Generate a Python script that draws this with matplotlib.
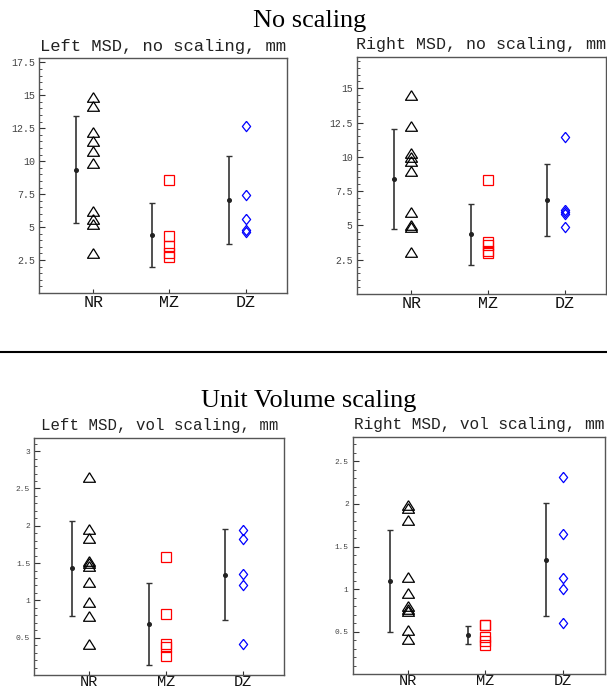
import matplotlib
matplotlib.use("Agg")
import matplotlib.pyplot as plt
from matplotlib.lines import Line2D
from matplotlib.ticker import MultipleLocator, FixedLocator
import numpy as np

categories = ["NR", "MZ", "DZ"]

# ---- Left MSD, no scaling ----
left_noscale_nr = [14.9, 14.2, 12.2, 11.5, 10.8, 9.9, 6.2, 5.6, 5.2, 3.0]
left_noscale_mz = [8.6, 4.3, 3.6, 3.0, 2.7]
left_noscale_dz = [12.7, 7.4, 5.6, 4.8, 4.65]
left_noscale_mean = [9.37, 4.43, 7.03]
left_noscale_sd = [4.08, 2.43, 3.35]

# ---- Right MSD, no scaling ----
right_noscale_nr = [14.5, 12.25, 10.3, 10.0, 9.7, 9.0, 6.0, 5.0, 4.9, 3.05]
right_noscale_mz = [8.3, 3.8, 3.6, 3.1, 3.0]
right_noscale_dz = [11.45, 6.15, 6.0, 5.8, 4.85]
right_noscale_mean = [8.4, 4.36, 6.84]
right_noscale_sd = [3.63, 2.23, 2.64]

# ---- Left MSD, vol scaling ----
left_vol_nr = [2.66, 1.96, 1.84, 1.53, 1.50, 1.46, 1.24, 0.98, 0.79, 0.42]
left_vol_mz = [1.58, 0.82, 0.41, 0.37, 0.25]
left_vol_dz = [1.94, 1.82, 1.36, 1.20, 0.42]
left_vol_mean = [1.43, 0.685, 1.345]
left_vol_sd = [0.64, 0.545, 0.605]

# ---- Right MSD, vol scaling ----
right_vol_nr = [1.99, 1.95, 1.81, 1.14, 0.96, 0.80, 0.77, 0.74, 0.52, 0.41]
right_vol_mz = [0.58, 0.58, 0.44, 0.39, 0.34]
right_vol_dz = [2.32, 1.65, 1.13, 1.00, 0.605]
right_vol_mean = [1.095, 0.4625, 1.345]
right_vol_sd = [0.595, 0.108, 0.665]

panel_titles = ["Left MSD, no scaling, mm", "Right MSD, no scaling, mm",
                "Left MSD, vol scaling, mm", "Right MSD, vol scaling, mm"]
section_titles = ["No scaling", "Unit Volume scaling"]

panels = [
    dict(title=panel_titles[0], nr=left_noscale_nr, mz=left_noscale_mz, dz=left_noscale_dz,
         mean=left_noscale_mean, sd=left_noscale_sd,
         rect=[39/607, 1-293/689, 248/607, 235/689], ylim=(0, 17.83),
         major=2.5, minor=0.5, tfs=12.3, lfs=7.2, xpad=1.5, xfs=12),
    dict(title=panel_titles[1], nr=right_noscale_nr, mz=right_noscale_mz, dz=right_noscale_dz,
         mean=right_noscale_mean, sd=right_noscale_sd,
         rect=[356.7/607, 1-294/689, 249.3/607, 237.3/689], ylim=(0, 17.3),
         major=2.5, minor=0.5, tfs=12.0, lfs=7.0, xpad=1.5, xfs=12),
    dict(title=panel_titles[2], nr=left_vol_nr, mz=left_vol_mz, dz=left_vol_dz,
         mean=left_vol_mean, sd=left_vol_sd,
         rect=[34.3/607, 1-675/689, 250/607, 237.3/689], ylim=(0, 3.18),
         major=0.5, minor=0.1, tfs=11.3, lfs=5.8, xpad=0.0, xfs=11),
    dict(title=panel_titles[3], nr=right_vol_nr, mz=right_vol_mz, dz=right_vol_dz,
         mean=right_vol_mean, sd=right_vol_sd,
         rect=[352.7/607, 1-674.3/689, 252.3/607, 237.6/689], ylim=(0, 2.79),
         major=0.5, minor=0.1, tfs=11.6, lfs=5.6, xpad=0.0, xfs=11),
]

mono = "Liberation Mono"
serif = "Liberation Serif"

tri = [(0, 0.8), (-1, -0.8), (1, -0.8), (0, 0.8)]
dia = [(0, 1), (0.8, 0), (0, -1), (-0.8, 0), (0, 1)]

fig = plt.figure(figsize=(6.07, 6.89), dpi=100)

for p in panels:
    ax = fig.add_axes(p["rect"])
    x = np.arange(1, 4)
    ax.plot([x[0]] * len(p["nr"]), p["nr"], linestyle="none", marker=tri, ms=8.6,
            mfc="none", mec="black", mew=0.9)
    ax.plot([x[1]] * len(p["mz"]), p["mz"], linestyle="none", marker="s", ms=6.5,
            mfc="none", mec="#ff0000", mew=0.9)
    ax.plot([x[2]] * len(p["dz"]), p["dz"], linestyle="none", marker=dia, ms=7.4,
            mfc="none", mec="#0000ff", mew=0.9)
    ax.errorbar(x - 0.225, p["mean"], yerr=p["sd"], fmt="o", ms=2.6, color="#222222",
                ecolor="#333333", elinewidth=1.2, capsize=2.2, capthick=1.0)
    ax.set_xlim(0.29, 3.54)
    ax.set_ylim(*p["ylim"])
    ymax = p["ylim"][1]
    majors = np.arange(p["major"], ymax + 1e-9, p["major"])
    ax.yaxis.set_major_locator(FixedLocator(majors))
    ax.yaxis.set_minor_locator(MultipleLocator(p["minor"]))
    ax.set_yticklabels([("%g" % v) for v in majors], fontfamily=mono,
                       fontsize=p["lfs"], color="#444444")
    ax.set_xticks(x)
    ax.set_xticklabels(categories, fontfamily=mono, fontsize=p["xfs"], color="#111111")
    ax.tick_params(axis="y", which="major", direction="in", length=4, width=0.8,
                   color="#333333", pad=3)
    ax.tick_params(axis="y", which="minor", direction="in", length=2, width=0.6,
                   color="#333333")
    ax.tick_params(axis="x", which="major", direction="in", length=3, width=0.8,
                   color="#333333", pad=p["xpad"])
    ax.tick_params(axis="x", which="minor", length=0)
    for s in ax.spines.values():
        s.set_color("#555555")
        s.set_linewidth(1.0)
    ax.set_title(p["title"], fontfamily=mono, fontsize=p["tfs"], color="#222222", pad=5.2)

fig.text(309.5/607, 1-27/689, section_titles[0], ha="center", va="baseline",
         fontfamily=serif, fontsize=18.9, color="black")
fig.text(309/607, 1-407/689, section_titles[1], ha="center", va="baseline",
         fontfamily=serif, fontsize=18.9, color="black")
fig.add_artist(Line2D([0, 1], [1-352/689, 1-352/689], transform=fig.transFigure,
                      color="black", lw=1.5))

fig.savefig("out.png", dpi=100)
